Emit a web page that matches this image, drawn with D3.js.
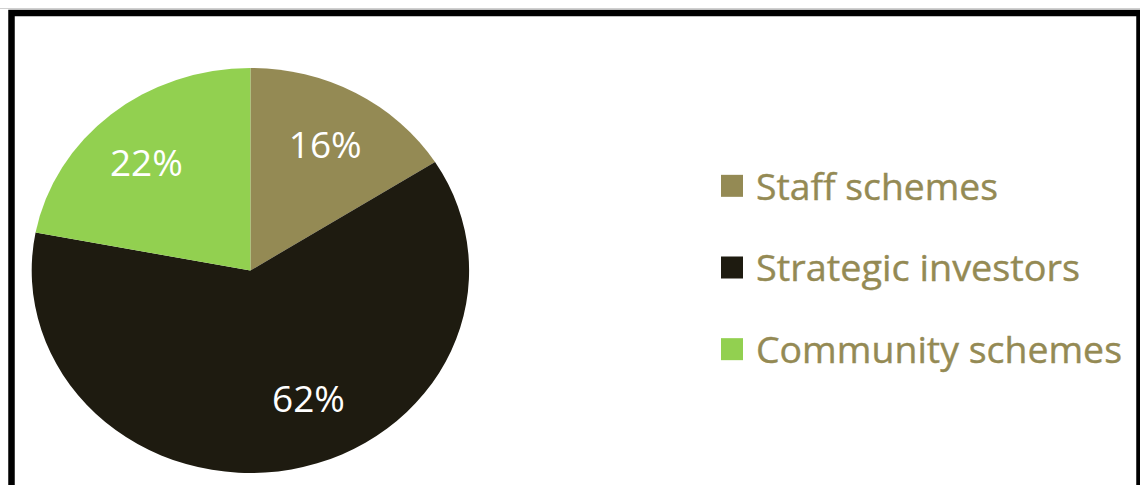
<!DOCTYPE html>
<html>
<head>
<meta charset="utf-8">
<script src="https://cdn.jsdelivr.net/npm/d3@7"></script>
<style>
  html, body { margin: 0; padding: 0; background: #ffffff; }
  svg { display: block; }
</style>
</head>
<body>
<svg id="chart" width="1140" height="485"></svg>
<script>
// Shareholding split
const categories = ["Staff schemes", "Strategic investors", "Community schemes"];
const shares = [16, 62, 22];
const labels = ["16%", "62%", "22%"];
const colors = ["#948A54", "#1E1B10", "#92D050"];

const W = 1140, H = 485;
const svg = d3.select("#chart");
const font = "'Open Sans', 'Noto Sans', sans-serif";

// thin shadow line above the frame
svg.append("line")
  .attr("x1", 0).attr("x2", W)
  .attr("y1", 8.5).attr("y2", 8.5)
  .attr("stroke", "#d0d0d0").attr("stroke-width", 1);

// frame
svg.append("rect")
  .attr("x", 11.5).attr("y", 13)
  .attr("width", 1128).attr("height", 520)
  .attr("fill", "#ffffff")
  .attr("stroke", "#000000").attr("stroke-width", 6.5);

// pie, slightly stretched horizontally
const cx = 250.4, cy = 270.5, r = 202.5, sx = 1.08;
const pie = d3.pie().sort(null).value(d => d.value);
const data = pie(categories.map((c, i) => ({ name: c, value: shares[i], label: labels[i], color: colors[i] })));
const arc = d3.arc().innerRadius(0).outerRadius(r);
const labelArc = d3.arc().innerRadius(r * 0.71).outerRadius(r * 0.71);

svg.append("g")
  .attr("transform", `translate(${cx},${cy}) scale(${sx},1)`)
  .selectAll("path")
  .data(data)
  .join("path")
  .attr("d", arc)
  .attr("fill", d => d.data.color);

// data labels at slice centroids, with small per-slice offsets
const nudge = { "Strategic investors": [29, -13], "Community schemes": [-5, 3] };
svg.append("g")
  .selectAll("text")
  .data(data)
  .join("text")
  .attr("x", d => cx + labelArc.centroid(d)[0] * sx + (nudge[d.data.name] || [0, 0])[0])
  .attr("y", d => cy + labelArc.centroid(d)[1] + (nudge[d.data.name] || [0, 0])[1])
  .attr("dy", "0.36em")
  .attr("text-anchor", "middle")
  .attr("font-family", font)
  .attr("font-size", 37)
  .attr("fill", "#ffffff")
  .text(d => d.data.label);

// legend
const legY = d3.scaleBand().domain(categories).range([145, 390]);
const legendWidths = { "Staff schemes": 242, "Strategic investors": 324, "Community schemes": 366 };
const leg = svg.append("g")
  .selectAll("g")
  .data(categories)
  .join("g")
  .attr("transform", d => `translate(0,${legY(d) + legY.bandwidth() / 2})`);

leg.append("rect")
  .attr("x", 721).attr("y", -11)
  .attr("width", 22).attr("height", 22)
  .attr("fill", (d, i) => colors[i]);

leg.append("text")
  .attr("x", 756).attr("y", 0)
  .attr("dy", "0.37em")
  .attr("font-family", font)
  .attr("font-size", 37)
  .attr("fill", "#948A54")
  .attr("stroke", "#948A54")
  .attr("stroke-width", 0.4)
  .attr("textLength", d => legendWidths[d])
  .attr("lengthAdjust", "spacingAndGlyphs")
  .text(d => d);
</script>
</body>
</html>
